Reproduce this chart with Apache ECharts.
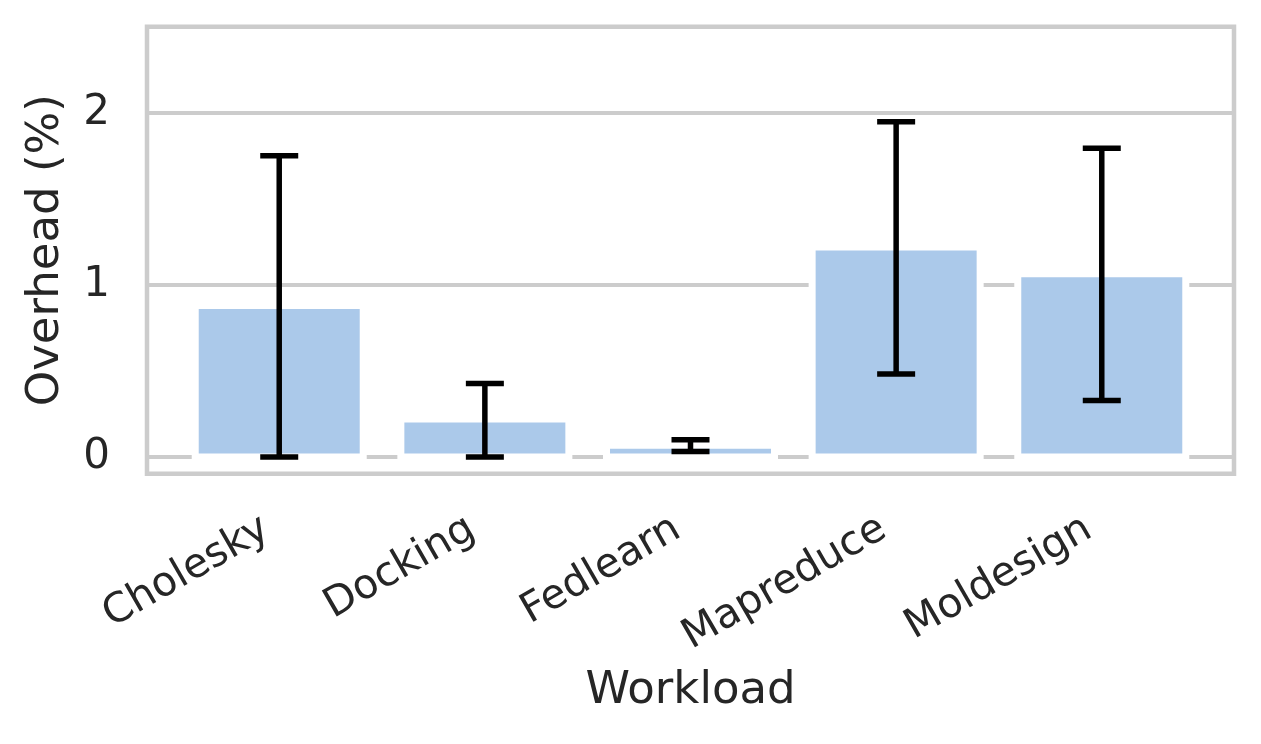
<!DOCTYPE html>
<html>
<head>
<meta charset="utf-8">
<script src="https://cdn.jsdelivr.net/npm/echarts@6/dist/echarts.min.js"></script>
<style>
  html, body { margin: 0; padding: 0; background: #ffffff; }
  #chart { width: 1261px; height: 744px; }
</style>
</head>
<body>
<div id="chart"></div>
<script>
// ---- data ----
const categories = ['Cholesky', 'Docking', 'Fedlearn', 'Mapreduce', 'Moldesign'];
const overhead   = [0.88, 0.22, 0.068, 1.22, 1.065];   // mean overhead (%)
const ciLow      = [0.0, 0.0, 0.031, 0.482, 0.327];    // error bar lower end
const ciHigh     = [1.75, 0.426, 0.100, 1.947, 1.793]; // error bar upper end
const yTicks     = [0, 1, 2];

const catIdx = categories.map((_, i) => i);
const barData = overhead.map((v, i) => [i, v]);
const errData = catIdx.map(i => [i, ciLow[i], ciHigh[i]]);

const TEXT = '#262626';
const FONT = 'DejaVu Sans';
const BAR_W = 0.817;   // bar width in category units

const chart = echarts.init(document.getElementById('chart'), null, { renderer: 'canvas' });

chart.setOption({
  animation: false,
  backgroundColor: '#ffffff',
  textStyle: { fontFamily: FONT, color: TEXT },
  grid: {
    left: 147, right: 27, top: 26.7, bottom: 270.3,
    show: true, borderColor: '#cccccc', borderWidth: 4.5, backgroundColor: 'transparent'
  },
  xAxis: {
    type: 'value',
    min: -0.643, max: 4.643,
    name: 'Workload',
    nameLocation: 'middle',
    nameGap: 195,
    nameTextStyle: { fontFamily: FONT, fontSize: 45, color: TEXT },
    axisLine: { show: false },
    axisTick: { show: false },
    splitLine: { show: false },
    axisLabel: {
      customValues: catIdx,
      formatter: v => categories[Math.round(v)] ?? '',
      rotate: 30,
      margin: 45,
      padding: [0, 15, 0, 0],
      fontFamily: FONT, fontSize: 41, color: TEXT
    }
  },
  yAxis: {
    type: 'value',
    min: -0.0977, max: 2.5,
    minInterval: 1, maxInterval: 1,
    name: 'Overhead (%)',
    nameLocation: 'middle',
    nameGap: 78,
    nameTextStyle: { fontFamily: FONT, fontSize: 45, color: TEXT },
    axisLine: { show: false },
    axisTick: { show: false },
    splitLine: { show: true, lineStyle: { color: '#cccccc', width: 4 } },
    axisLabel: {
      formatter: v => (yTicks.includes(Math.round(v * 1000) / 1000) ? String(Math.round(v)) : ''),
      margin: 37,
      fontFamily: FONT, fontSize: 42, color: TEXT
    }
  },
  series: [
    {
      type: 'custom',
      data: barData,
      z: 2,
      renderItem: function (params, api) {
        const x = api.value(0);
        const p0 = api.coord([x - BAR_W / 2, 0]);
        const p1 = api.coord([x + BAR_W / 2, api.value(1)]);
        return {
          type: 'rect',
          shape: { x: p0[0], y: p1[1], width: p1[0] - p0[0], height: p0[1] - p1[1] },
          style: { fill: '#abc9ea', stroke: '#ffffff', lineWidth: 7 }
        };
      }
    },
    {
      type: 'custom',
      data: errData,
      z: 5,
      renderItem: function (params, api) {
        const x = api.value(0);
        const lo = api.coord([x, api.value(1)]);
        const hi = api.coord([x, api.value(2)]);
        const cap = 19;
        const style = { stroke: '#000000', lineWidth: 5.5, fill: null };
        return {
          type: 'group',
          children: [
            { type: 'line', shape: { x1: lo[0], y1: lo[1], x2: hi[0], y2: hi[1] }, style: style },
            { type: 'line', shape: { x1: hi[0] - cap, y1: hi[1], x2: hi[0] + cap, y2: hi[1] }, style: style },
            { type: 'line', shape: { x1: lo[0] - cap, y1: lo[1], x2: lo[0] + cap, y2: lo[1] }, style: style }
          ]
        };
      }
    }
  ]
});
</script>
</body>
</html>
